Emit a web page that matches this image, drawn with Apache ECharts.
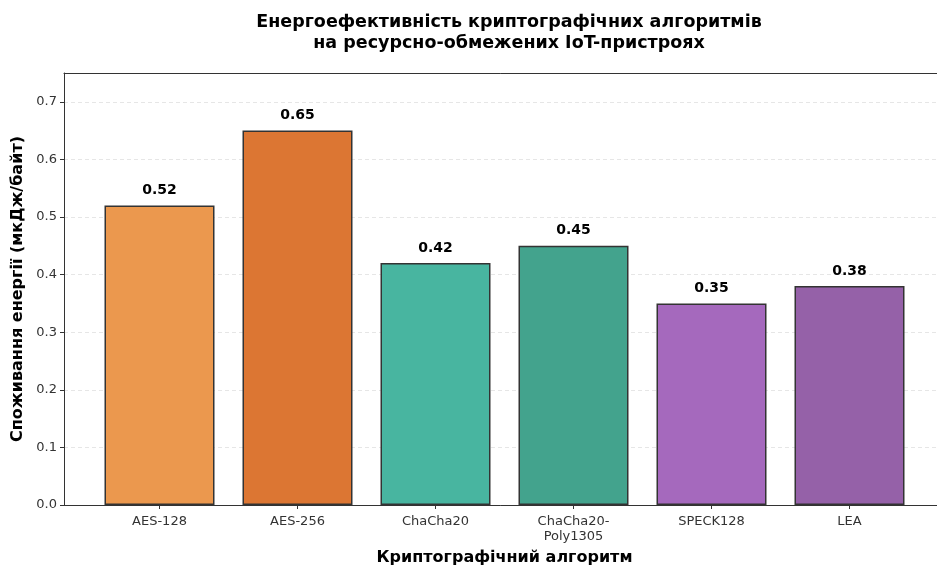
<!DOCTYPE html>
<html>
<head>
<meta charset="utf-8">
<script src="https://cdn.jsdelivr.net/npm/echarts@6/dist/echarts.min.js"></script>
<style>
  html, body { margin: 0; padding: 0; background: #fff; }
  #chart { width: 937px; height: 565px; }
</style>
</head>
<body>
<div id="chart"></div>
<script>
// дані з графіка
const categories = ['AES-128', 'AES-256', 'ChaCha20', 'ChaCha20-\nPoly1305', 'SPECK128', 'LEA'];
const energy = [0.52, 0.65, 0.42, 0.45, 0.35, 0.38];
const barColors = ['#EB984E', '#DC7633', '#48B5A0', '#43A38D', '#A569BD', '#9561A8'];
const yTicks = [0, 0.1, 0.2, 0.3, 0.4, 0.5, 0.6, 0.7];

const font = 'DejaVu Sans';
const chart = echarts.init(document.getElementById('chart'));

const options = {
    animation: false,
    backgroundColor: '#fff',
    title: {
        text: 'Енергоефективність криптографічних алгоритмів\nна ресурсно-обмежених IoT-пристроях',
        left: 504,
        top: 7,
        textAlign: 'center',
        textStyle: {
            fontFamily: font,
            fontWeight: 'bold',
            fontSize: 17.5,
            lineHeight: 21,
            color: '#000'
        }
    },
    grid: [
        // рамка осей (права межа за краєм, як у оригіналі)
        { left: 64, top: 73, right: -7, bottom: 60, outerBoundsMode: 'none', containLabel: false },
        // сітка для стовпців
        { left: 90.5, width: 828, top: 73, bottom: 60, outerBoundsMode: 'none', containLabel: false }
    ],
    xAxis: [
        {
            gridIndex: 0, type: 'value', min: 0, max: 1, position: 'bottom',
            axisLine: { show: true, onZero: false, lineStyle: { color: '#333', width: 1 } },
            axisTick: { show: false }, axisLabel: { show: false }, splitLine: { show: false }
        },
        {
            gridIndex: 0, type: 'value', min: 0, max: 1, position: 'top', z: 5,
            axisLine: { show: true, onZero: false, lineStyle: { color: '#333', width: 1 } },
            axisTick: { show: false }, axisLabel: { show: false }, splitLine: { show: false }
        },
        {
            gridIndex: 1,
            type: 'category',
            data: categories,
            axisLine: { show: false },
            axisTick: { show: true, alignWithLabel: true, length: 4, lineStyle: { color: '#333' } },
            axisLabel: { fontFamily: font, fontSize: 13, color: '#333', margin: 9, lineHeight: 15, interval: 0 },
            name: 'Криптографічний алгоритм',
            nameLocation: 'middle',
            nameGap: 45,
            nameTextStyle: { fontFamily: font, fontWeight: 'bold', fontSize: 16, color: '#000' }
        }
    ],
    yAxis: [
        {
            gridIndex: 0,
            type: 'value',
            min: 0,
            max: 0.75,
            interval: 0.1,
            axisLine: { show: true, lineStyle: { color: '#333', width: 1 } },
            axisTick: { show: true, length: 4, lineStyle: { color: '#333' } },
            axisLabel: {
                fontFamily: font, fontSize: 13, color: '#333', margin: 7,
                showMaxLabel: false,
                formatter: v => yTicks.some(t => Math.abs(t - v) < 1e-9) ? v.toFixed(1) : ''
            },
            splitLine: { show: true, lineStyle: { color: '#e0e0e0', type: [4, 3], width: 0.8 } },
            name: 'Споживання енергії (мкДж/байт)',
            nameLocation: 'middle',
            nameGap: 35,
            nameRotate: 90,
            nameTextStyle: { fontFamily: font, fontWeight: 'bold', fontSize: 16, color: '#000' }
        },
        { gridIndex: 1, type: 'value', min: 0, max: 0.75, show: false }
    ],
    series: [
        {
            type: 'bar',
            xAxisIndex: 2,
            yAxisIndex: 1,
            barWidth: 110,
            data: energy.map((v, i) => ({
                value: v,
                itemStyle: { color: barColors[i] }
            })),
            itemStyle: { borderColor: '#333', borderWidth: 1.5 },
            label: {
                show: true,
                position: 'top',
                distance: 8,
                fontFamily: font,
                fontWeight: 'bold',
                fontSize: 14,
                color: '#000',
                formatter: p => p.value.toFixed(2)
            }
        }
    ]
};
chart.setOption(options);
</script>
</body>
</html>
